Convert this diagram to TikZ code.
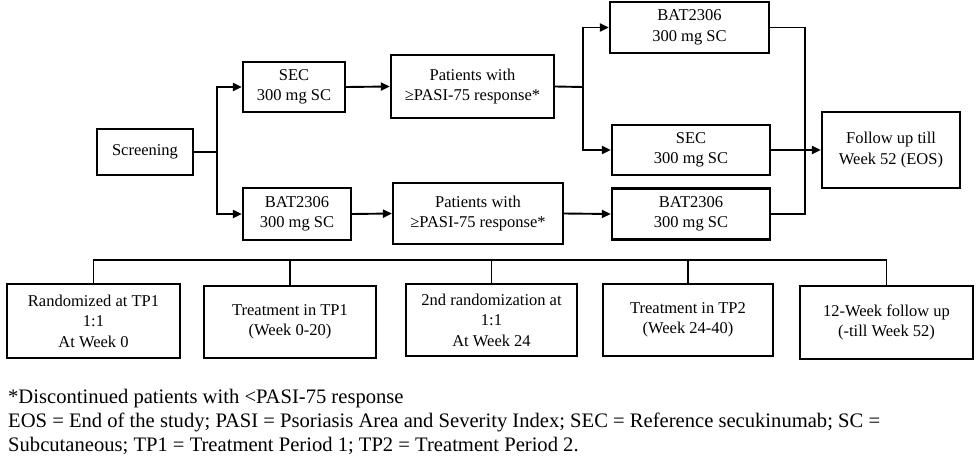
\documentclass[tikz,border=0pt]{standalone}
\usepackage{fontspec}
\setmainfont{Liberation Serif}
\usetikzlibrary{arrows.meta}
\begin{document}
\begin{tikzpicture}[x=1pt,y=-1pt,
  box/.style={draw, line width=2.2pt, align=center, inner sep=0pt, font=\fontsize{16.5}{20.5}\selectfont},
  conn/.style={line width=1.9pt},
  arr/.style={conn, -{Triangle[length=9pt,width=8pt]}},
  note/.style={anchor=base west, inner sep=0pt, font=\fontsize{20.6}{24}\selectfont}]
\useasboundingbox (0,0) rectangle (980,458);
% top part
\node[box, minimum width=96pt, minimum height=46pt] (scr) at (145,152) {Screening};
\node[box, minimum width=102pt, minimum height=50pt] (sec1) at (294,87) {SEC\\300 mg SC};
\node[box, minimum width=108pt, minimum height=52pt] (bat1) at (297,214) {BAT2306\\300 mg SC};
\node[box, minimum width=163pt, minimum height=63pt] (pat1) at (472.5,86.5) {Patients with\\≥PASI-75 response*};
\node[box, minimum width=170pt, minimum height=61pt] (pat2) at (478,213.5) {Patients with\\≥PASI-75 response*};
\node[box, minimum width=159pt, minimum height=51pt] (bat2) at (689.5,27.5) {BAT2306\\300 mg SC};
\node[box, minimum width=158pt, minimum height=50pt] (sec2) at (691,150) {SEC\\300 mg SC};
\node[box, minimum width=158pt, minimum height=51pt] (bat3) at (691,214) {BAT2306\\300 mg SC};
\node[box, minimum width=138pt, minimum height=76pt] (fu) at (891,150) {Follow up till\\Week 52 (EOS)};
\coordinate (j1) at (217,152);
\coordinate (j2) at (583,87);
\coordinate (j3) at (805,27.5);
\draw[conn] (scr.east) -- (j1);
\draw[arr] (j1) |- (sec1.west);
\draw[arr] (j1) |- (bat1.west);
\draw[arr] (sec1.east) -- (pat1.west);
\draw[arr] (bat1.east) -- (pat2.west);
\draw[conn] (pat1.east) -- (j2);
\draw[arr] (j2) |- (bat2.west);
\draw[arr] (j2) |- (sec2.west);
\draw[arr] (pat2.east) -- (bat3.west);
\draw[conn] (bat2.east) -- (j3) |- (bat3.east);
\draw[arr] (sec2.east) -- (fu.west);
% bottom row
\node[box, minimum width=173pt, minimum height=74pt] (b1) at (93.5,321) {Randomized at TP1\\1:1\\At Week 0};
\node[box, minimum width=172pt, minimum height=72pt] (b2) at (290,322) {Treatment in TP1\\(Week 0-20)};
\node[box, minimum width=171pt, minimum height=72pt] (b3) at (491.5,320) {2nd randomization at\\1:1\\At Week 24};
\node[box, minimum width=170pt, minimum height=72pt] (b4) at (688,320) {Treatment in TP2\\(Week 24-40)};
\node[box, minimum width=173pt, minimum height=73pt] (b5) at (886.5,322.5) {12-Week follow up\\(-till Week 52)};
\coordinate (bar) at (0,260);
\draw[conn] (b1.north) |- (b5.north |- bar) -- (b5.north);
\draw[conn] (b2.north) -- (b2.north |- bar);
\draw[conn] (b3.north) -- (b3.north |- bar);
\draw[conn] (b4.north) -- (b4.north |- bar);
% footnotes
\node[note] (fn1) at (8,403) {*Discontinued patients with <PASI-75 response};
\node[note] (fn2) at (8,427) {EOS = End of the study; PASI = Psoriasis Area and Severity Index; SEC = Reference secukinumab; SC =};
\node[note] (fn3) at (8,451) {Subcutaneous; TP1 = Treatment Period 1; TP2 = Treatment Period 2.};
\end{tikzpicture}
\end{document}
